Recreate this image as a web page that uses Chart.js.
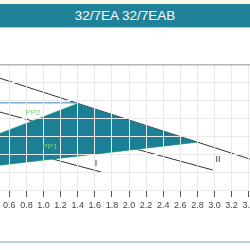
<!DOCTYPE html>
<html><head><meta charset="utf-8">
<script src="https://cdn.jsdelivr.net/npm/chart.js@4"></script>
<style>
html,body{margin:0;padding:0;width:250px;height:250px;overflow:hidden;background:#fff;font-family:"Liberation Sans",Arial,sans-serif}
#wrap{position:absolute;left:0;top:0;width:250px;height:250px}
#cream{position:absolute;left:0;top:0;width:250px;height:4px;background:#fbf7e6}
#bar{position:absolute;left:0;top:4px;width:250px;height:23px;background:#1f8299;color:#fff;font-size:13.5px;line-height:23px;text-align:center;border-bottom:1px solid #9fd0dd}
#bot{position:absolute;left:0;top:241px;width:250px;height:2px;background:#b5d7e4}
</style></head>
<body>
<div id="wrap"><canvas id="c" width="250" height="250"></canvas></div>
<div id="cream"></div>
<div id="bar">32/7EA 32/7EAB</div>
<div id="bot"></div>
<script>
// flow (m3/h) tick values and labels
const xTicks = [0.6,0.8,1.0,1.2,1.4,1.6,1.8,2.0,2.2,2.4,2.6,2.8,3.0,3.2,3.4];
const xLabels = ["0.6","0.8","1.0","1.2","1.4","1.6","1.8","2.0","2.2","2.4","2.6","2.8","3.0","3.2","3.4"];
// pump curves [flow, head]
const curveIII = [[0.4,6.4],[1.4,4.85],[2.8,2.68],[3.5,1.6]];
const curveII  = [[0.4,4.48],[1.5,3.05],[2.98,1.12]];
const curveI   = [[0.4,2.64],[1.68,1.0]];
// proportional pressure lines
const pp2 = [[0.4,3.0],[1.4,4.85]];
const pp1 = [[0.4,1.34],[2.8,2.68]];
// region between PP lines under max curve
const region = [[0.4,3.0],[1.4,4.85],[2.8,2.68],[0.4,1.34],[0.4,3.0]];
// constant pressure line
const cpLine = [[0.4,4.88],[1.37,4.88]];
// curve labels [text, flow, head]
const labels = [["PP2",0.877,4.31],["PP1",1.076,2.41],["I",1.614,1.51],["II",3.04,1.68]];

const pts = a => a.map(p => ({x:p[0], y:p[1]}));

const textPlugin = {
  id:'texts',
  afterDraw(chart){
    const {ctx, scales:{x,y}} = chart;
    ctx.save();
    ctx.textAlign='center'; ctx.textBaseline='middle';
    ctx.font='9px "Liberation Sans", Arial, sans-serif';
    ctx.fillStyle='#444';
    xTicks.forEach((v,i)=>ctx.fillText(xLabels[i], x.getPixelForValue(v), 206));
    labels.forEach(l=>{
      const isPP = l[0].startsWith('PP');
      ctx.fillStyle = isPP ? '#7ed07a' : '#333';
      ctx.font = isPP ? '8px "Liberation Sans", Arial, sans-serif' : '9px "Liberation Sans", Arial, sans-serif';
      ctx.fillText(l[0], x.getPixelForValue(l[1]), y.getPixelForValue(l[2]));
    });
    ctx.restore();
  }
};

const line = (data, color, w) => ({type:'line', data:pts(data), borderColor:color, borderWidth:w, pointRadius:0, fill:false, tension:0});

new Chart(document.getElementById('c'), {
  type:'scatter',
  data:{datasets:[
    {type:'line', data:pts(region), borderWidth:0, borderColor:'rgba(0,0,0,0)', backgroundColor:'#1b7f96', fill:'shape', pointRadius:0, tension:0},
    line(pp2,'#6fd08a',1),
    line(pp1,'#5fd06a',1),
    line(cpLine,'#3a86b8',1),
    line(curveIII,'#333',1),
    line(curveII,'#333',1),
    line(curveI,'#333',1)
  ]},
  options:{
    responsive:false, animation:false, events:[],
    layout:{padding:{top:65,left:0,right:0,bottom:53}},
    plugins:{legend:{display:false}, tooltip:{enabled:false}},
    scales:{
      x:{type:'linear', min:0.491, max:3.415,
        afterBuildTicks:s=>{ s.ticks = xTicks.map(v=>({value:v})); },
        ticks:{display:false},
        border:{display:false},
        grid:{color:'#e9e9e9', tickColor:'#555', tickLength:7, drawTicks:true, z:1}
      },
      y:{type:'linear', min:0, max:7,
        ticks:{display:false, stepSize:1},
        border:{display:false},
        grid:{drawTicks:false, z:1,
          color:c=> c.tick && c.tick.value===7 ? '#b8b8b8' : '#e9e9e9',
          lineWidth:c=> c.tick && c.tick.value===7 ? 1.5 : 1}
      }
    }
  },
  plugins:[textPlugin]
});
</script>
</body></html>
